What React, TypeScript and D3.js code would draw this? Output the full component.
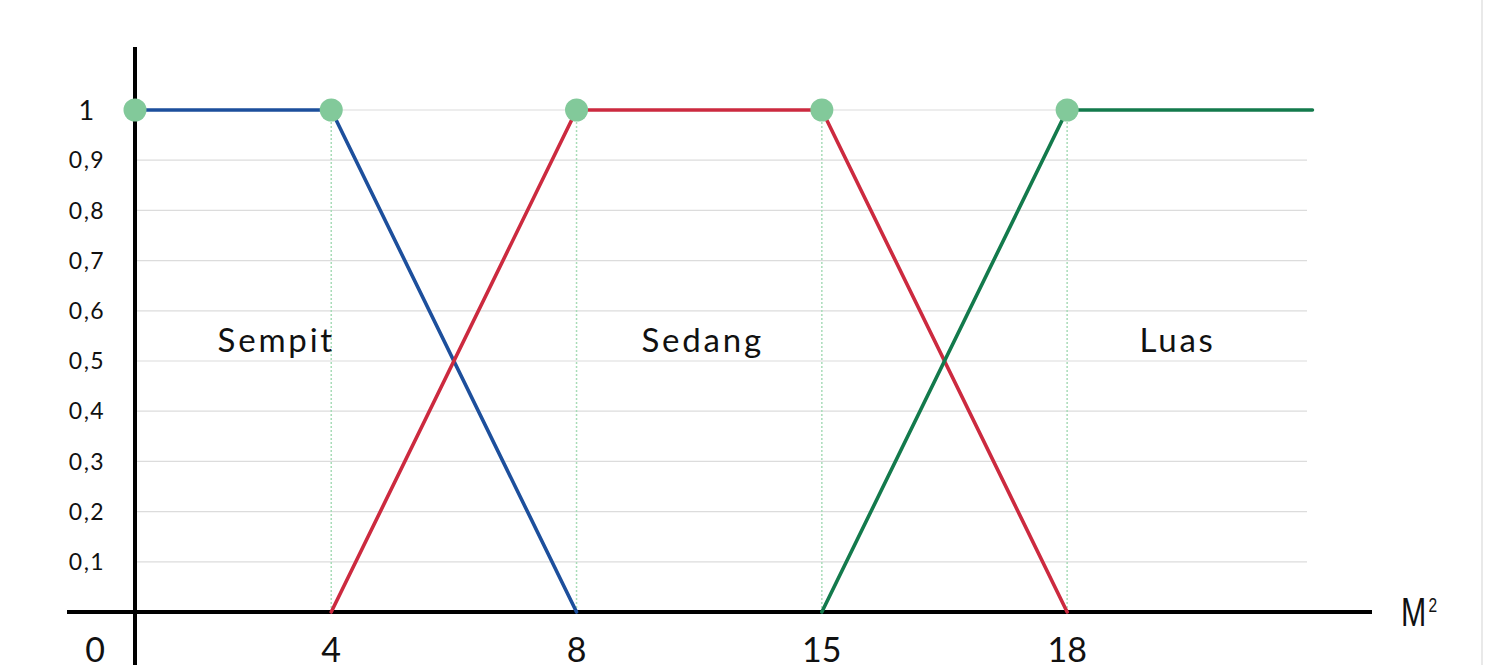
import React, { useEffect, useRef } from "react";
import * as d3 from "d3";

type Pt = { x: number; y: number };

// axis breakpoints (the picture spaces them evenly, except 0 -> 4)
const xBreaks = [0, 4, 8, 15, 18, 22];
const xTickLabels = ["0", "4", "8", "15", "18"];
const yTicks = [0.1, 0.2, 0.3, 0.4, 0.5, 0.6, 0.7, 0.8, 0.9, 1];

const sempit: Pt[] = [
  { x: 0, y: 1 },
  { x: 4, y: 1 },
  { x: 8, y: 0 },
];
const sedang: Pt[] = [
  { x: 4, y: 0 },
  { x: 8, y: 1 },
  { x: 15, y: 1 },
  { x: 18, y: 0 },
];
const luas: Pt[] = [
  { x: 15, y: 0 },
  { x: 18, y: 1 },
  { x: 22, y: 1 },
];
const corners = [0, 4, 8, 15, 18];

const regionLabels = [
  { text: "Sempit", x: 2.88, y: 0.518 },
  { text: "Sedang", x: 11.6, y: 0.518 },
  { text: "Luas", x: 19.8, y: 0.518 },
];

const W = 1503;
const H = 665;

export default function App() {
  const svgRef = useRef<SVGSVGElement>(null);

  useEffect(() => {
    if (!svgRef.current) return;
    const svg = d3.select(svgRef.current);
    svg.selectAll("*").remove();

    const x0 = 135;
    const step = 245.3;
    const unitPos = [0, 0.8, 1.8, 2.8, 3.8, 4.8];
    const x = d3.scaleLinear().domain(xBreaks).range(unitPos.map((u) => x0 + u * step));
    const y = d3.scaleLinear().domain([0, 1]).range([612, 110]);

    svg.append("rect").attr("width", W).attr("height", H).attr("fill", "#fff");
    svg.append("line")
      .attr("x1", 1482).attr("x2", 1482).attr("y1", 0).attr("y2", H)
      .attr("stroke", "#e2e2e2").attr("stroke-width", 1.5);

    // grid
    svg.append("g")
      .selectAll("line")
      .data(yTicks)
      .join("line")
      .attr("x1", x(0))
      .attr("x2", 1307)
      .attr("y1", (d) => y(d))
      .attr("y2", (d) => y(d))
      .attr("stroke", "#dcdcdc")
      .attr("stroke-width", 1.2);

    // dotted guides
    svg.append("g")
      .selectAll("line")
      .data(corners.slice(1))
      .join("line")
      .attr("x1", (d) => x(d))
      .attr("x2", (d) => x(d))
      .attr("y1", y(1))
      .attr("y2", y(0))
      .attr("stroke", "#a8dcb8")
      .attr("stroke-width", 1.5)
      .attr("stroke-dasharray", "2,2");

    // axes
    svg.append("line")
      .attr("x1", x(0)).attr("x2", x(0)).attr("y1", 47).attr("y2", H)
      .attr("stroke", "#000").attr("stroke-width", 4);
    svg.append("line")
      .attr("x1", 67).attr("x2", 1372).attr("y1", y(0)).attr("y2", y(0))
      .attr("stroke", "#000").attr("stroke-width", 4);

    const line = d3.line<Pt>().x((d) => x(d.x)).y((d) => y(d.y));
    const series: [Pt[], string][] = [
      [sempit, "#1d4f9c"],
      [sedang, "#cc2a3f"],
      [luas, "#137a4c"],
    ];
    series.forEach(([data, color]) => {
      svg.append("path")
        .datum(data)
        .attr("d", line)
        .attr("fill", "none")
        .attr("stroke", color)
        .attr("stroke-width", 3.6)
        .attr("stroke-linecap", "round")
        .attr("stroke-linejoin", "round");
    });

    svg.append("g")
      .selectAll("circle")
      .data(corners)
      .join("circle")
      .attr("cx", (d) => x(d))
      .attr("cy", y(1))
      .attr("r", 11.5)
      .attr("fill", "#82c99a");

    const font = "'Lato', 'Open Sans', sans-serif";

    // y tick labels
    svg.append("g")
      .selectAll("text")
      .data(yTicks)
      .join("text")
      .attr("x", 87)
      .attr("y", (d) => y(d))
      .attr("dy", "0.36em")
      .attr("text-anchor", "middle")
      .attr("font-family", font)
      .attr("font-size", (d) => (d === 1 ? 27 : 23))
      .attr("letter-spacing", 1.5)
      .attr("fill", "#111")
      .text((d) => (d === 1 ? "1" : d3.format(".1f")(d).replace(".", ",")));

    // x tick labels
    svg.append("g")
      .selectAll("text")
      .data(xTickLabels)
      .join("text")
      .attr("x", (d) => (d === "0" ? x(0) - 40 : x(+d)))
      .attr("y", 662)
      .attr("text-anchor", "middle")
      .attr("font-family", font)
      .attr("font-size", 34)
      .attr("fill", "#111")
      .text((d) => d);

    // region labels
    svg.append("g")
      .selectAll("text")
      .data(regionLabels)
      .join("text")
      .attr("x", (d) => x(d.x))
      .attr("y", (d) => y(d.y))
      .attr("text-anchor", "middle")
      .attr("font-family", font)
      .attr("font-size", 33)
      .attr("letter-spacing", 2.8)
      .attr("fill", "#111")
      .text((d) => d.text);

    // unit label (condensed)
    const unit = svg.append("text")
      .attr("transform", "translate(1401,626) scale(0.74,1)")
      .attr("font-family", "'Liberation Sans', sans-serif")
      .attr("font-size", 41)
      .attr("fill", "#111");
    unit.append("tspan").text("M");
    unit.append("tspan").attr("font-size", 21).attr("dy", -14).attr("dx", 3).text("2");
  }, []);

  return (
    <svg
      ref={svgRef}
      width={W}
      height={H}
      style={{ position: "absolute", left: 0, top: 0, display: "block" }}
    />
  );
}
